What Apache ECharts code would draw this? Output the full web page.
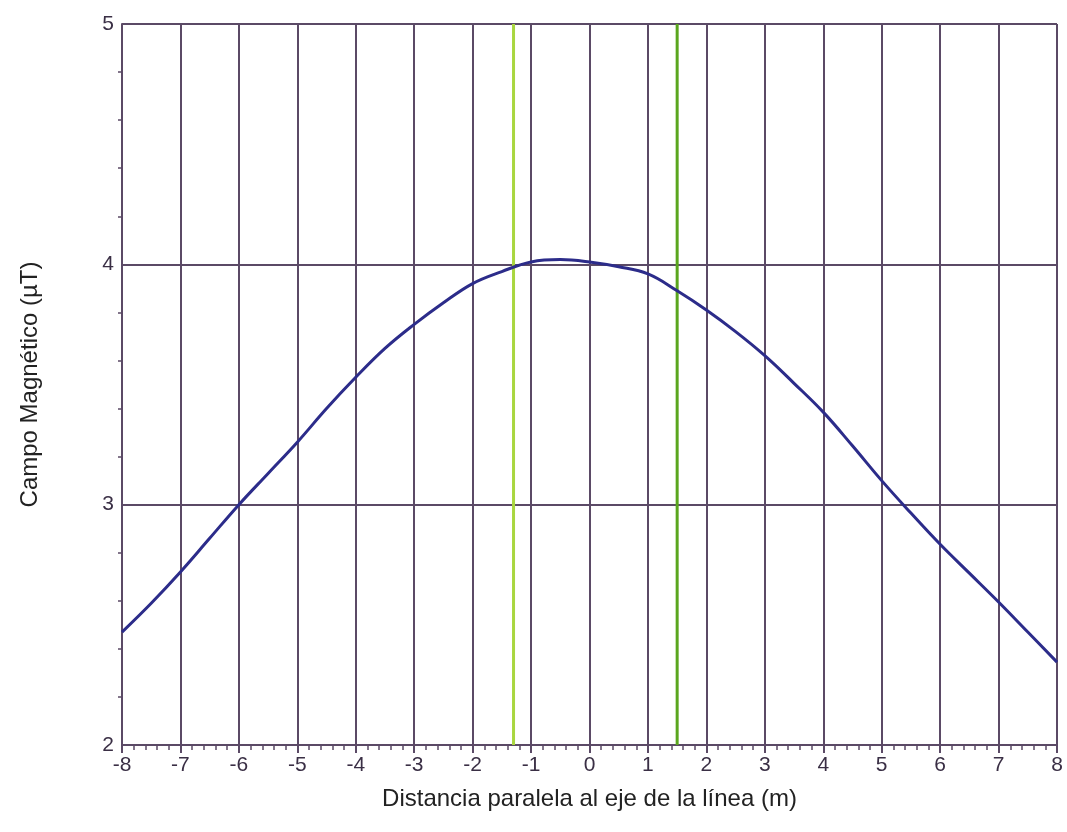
<!DOCTYPE html>
<html>
<head>
<meta charset="utf-8">
<script src="https://cdn.jsdelivr.net/npm/echarts@6/dist/echarts.min.js"></script>
<style>
  html, body { margin: 0; padding: 0; background: #fff; }
  #chart { width: 1067px; height: 832px; }
</style>
</head>
<body>
<div id="chart"></div>
<script>
// distancia (m) y campo (µT)
var distancia = [-8, -7.5, -7, -6.5, -6, -5.5, -5, -4.5, -4, -3.5, -3, -2.5, -2, -1.5, -1, -0.5,
                 0, 0.5, 1, 1.5, 2, 2.5, 3, 3.5, 4, 4.5, 5, 5.5, 6, 6.5, 7, 7.5, 8];
var campo = [2.47, 2.59, 2.72, 2.86, 3.0, 3.13, 3.26, 3.40, 3.53, 3.65, 3.75, 3.84, 3.92, 3.97, 4.01, 4.02,
             4.01, 3.99, 3.96, 3.89, 3.81, 3.72, 3.62, 3.505, 3.385, 3.245, 3.10, 2.965, 2.835, 2.715, 2.595, 2.47, 2.345];
// posiciones de los conductores (lineas verdes)
var conductores = [-1.3, 1.5];
var coloresConductor = ["#a9d63f", "#5aa61e"];

var gridColor = "#5b4a66";

var series = [{
  name: "campo",
  type: "line",
  data: distancia.map(function (x, i) { return [x, campo[i]]; }),
  showSymbol: false,
  smooth: 0.4,
  lineStyle: { color: "#2c2c8a", width: 3 },
  z: 5
}];
for (let i = 0; i < conductores.length; i++) {
  series.push({
    type: "line",
    data: [[conductores[i], 2], [conductores[i], 5]],
    showSymbol: false,
    lineStyle: { color: coloresConductor[i], width: 3 },
    z: 4
  });
}

var myChart = echarts.init(document.getElementById("chart"));
myChart.setOption({
  animation: false,
  grid: { left: 122, right: 10, top: 24, bottom: 87 },
  xAxis: {
    type: "value",
    min: -8, max: 8, interval: 1,
    name: "Distancia paralela al eje de la línea (m)",
    nameLocation: "middle",
    nameGap: 42,
    nameTextStyle: { fontFamily: "Liberation Sans", fontSize: 24, color: "#222" },
    axisLine: { show: true, onZero: false, lineStyle: { color: gridColor, width: 2 } },
    axisTick: { show: true, length: 8, lineStyle: { color: gridColor, width: 2 } },
    minorTick: { show: true, splitNumber: 5, length: 5, lineStyle: { color: gridColor, width: 1.5 } },
    axisLabel: { fontFamily: "Liberation Sans", fontSize: 21, color: "#3a2f45", margin: 10 },
    splitLine: { show: true, lineStyle: { color: gridColor, width: 2 } }
  },
  yAxis: {
    type: "value",
    min: 2, max: 5, interval: 1,
    name: "Campo Magnético (µT)",
    nameLocation: "middle",
    nameGap: 80,
    nameTextStyle: { fontFamily: "Liberation Sans", fontSize: 24, color: "#222" },
    axisLine: { show: true, onZero: false, lineStyle: { color: gridColor, width: 2 } },
    axisTick: { show: false },
    minorTick: { show: true, splitNumber: 5, length: 4, lineStyle: { color: gridColor, width: 1.5 } },
    axisLabel: { fontFamily: "Liberation Sans", fontSize: 21, color: "#3a2f45", margin: 8 },
    splitLine: { show: true, lineStyle: { color: gridColor, width: 2 } }
  },
  series: series
});
</script>
</body>
</html>
